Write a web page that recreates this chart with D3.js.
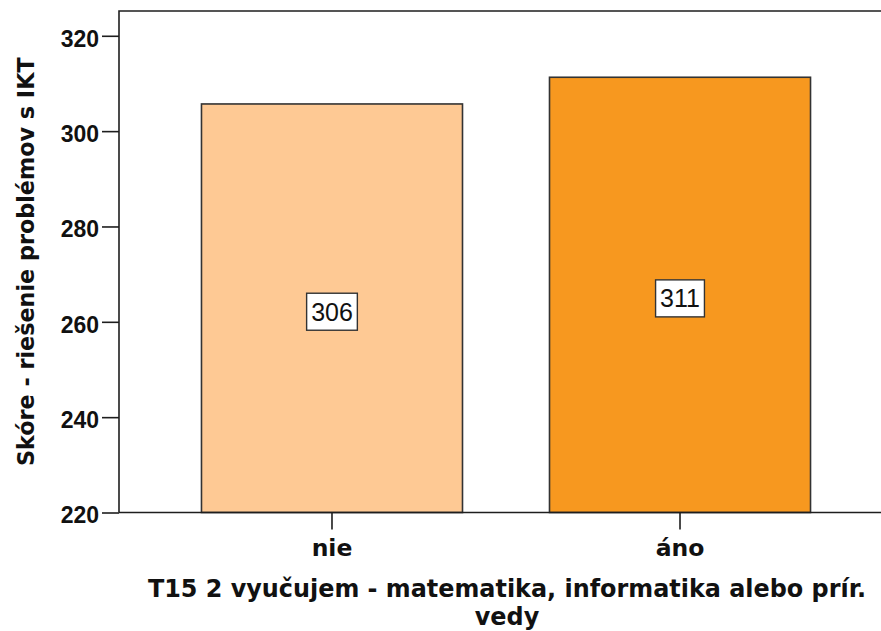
<!DOCTYPE html>
<html><head><meta charset="utf-8">
<script src="https://cdn.jsdelivr.net/npm/d3@7"></script>
<style>body{margin:0;background:#fff}svg{display:block}</style>
</head><body>
<svg id="c" width="881" height="631"></svg>
<script>
const categories = ["nie", "áno"];
const values = [305.7, 311.3];
const labels = ["306", "311"];
const colors = ["#FEC994", "#F7981F"];
const yTicks = [220, 240, 260, 280, 300, 320];
const yTitle = "Skóre - riešenie problémov s IKT";
const xTitleLines = ["T15 2 vyučujem - matematika, informatika alebo prír.", "vedy"];

const svg = d3.select("#c");
const L = 119, R = 893, T = 11, B = 512.5;
const x = d3.scaleBand().domain(categories).range([L, R]).paddingInner(0.25).paddingOuter(0.237);
const y = d3.scaleLinear().domain([220, 325.2]).range([B, T]);

// bars
svg.selectAll("rect.bar").data(values).join("rect")
  .attr("class","bar")
  .attr("x",(d,i)=>x(categories[i]))
  .attr("width",x.bandwidth())
  .attr("y",d=>y(d))
  .attr("height",d=>y(220)-y(d))
  .attr("fill",(d,i)=>colors[i])
  .attr("stroke","#333").attr("stroke-width",1.6);

// frame
svg.append("path").attr("d",`M${L},${B}V${T}H${R+10}`).attr("fill","none").attr("stroke","#1e1e1e").attr("stroke-width",1.6);
svg.append("line").attr("x1",L).attr("x2",R+10).attr("y1",B).attr("y2",B).attr("stroke","#1e1e1e").attr("stroke-width",1.6);

// y axis
const ya = svg.append("g").attr("transform",`translate(${L},0)`)
  .call(d3.axisLeft(y).tickValues(yTicks).tickSize(17).tickPadding(3).tickFormat(d3.format("d")));
ya.select(".domain").remove();
ya.selectAll(".tick line").attr("stroke","#1e1e1e").attr("stroke-width",1.6);
ya.selectAll(".tick text").attr("font-family","'Liberation Sans', Arial, sans-serif")
  .attr("font-weight","bold").attr("font-size",23).attr("fill","#111").attr("dy","0.65em").attr("y",-4.5);

// x axis
const xa = svg.append("g").attr("transform",`translate(0,${B})`)
  .call(d3.axisBottom(x).tickSize(17).tickPadding(4));
xa.select(".domain").remove();
xa.selectAll(".tick line").attr("stroke","#1e1e1e").attr("stroke-width",1.6);
xa.selectAll(".tick text").attr("font-family","'DejaVu Sans', sans-serif")
  .attr("font-weight","bold").attr("font-size",23.5).attr("fill","#111")
  .attr("dy",null).attr("y",43.5);

// value labels
const lg = svg.selectAll("g.lab").data(values).join("g").attr("class","lab");
lg.each(function(d,i){
  const g = d3.select(this);
  const cx = x(categories[i]) + x.bandwidth()/2;
  const cy = (y(d)+y(220))/2 + 3.5;
  const t = g.append("text").attr("x",cx).attr("y",cy).attr("text-anchor","middle")
    .attr("dominant-baseline","central")
    .attr("font-family","'Liberation Sans', Arial, sans-serif").attr("font-size",25).attr("fill","#111")
    .text(labels[i]);
  const bb = t.node().getBBox();
  g.insert("rect","text").attr("x",bb.x-4.5).attr("y",cy-18.5).attr("width",bb.width+9).attr("height",37)
    .attr("fill","#fff").attr("stroke","#333").attr("stroke-width",1.4);
});

// y title
svg.append("text").attr("transform",`translate(34,${(T+B)/2}) rotate(-90)`)
  .attr("text-anchor","middle").attr("font-family","'DejaVu Sans', sans-serif")
  .attr("font-weight","bold").attr("font-size",22.3).attr("fill","#111").text(yTitle);

// x title
[597, 625].forEach((yy,i)=>svg.append("text").attr("text-anchor","middle")
  .attr("font-family","'DejaVu Sans', sans-serif")
  .attr("font-weight","bold").attr("font-size",23.9).attr("fill","#111")
  .attr("x",(L+R+2)/2).attr("y",yy).text(xTitleLines[i]));
</script>
</body></html>
